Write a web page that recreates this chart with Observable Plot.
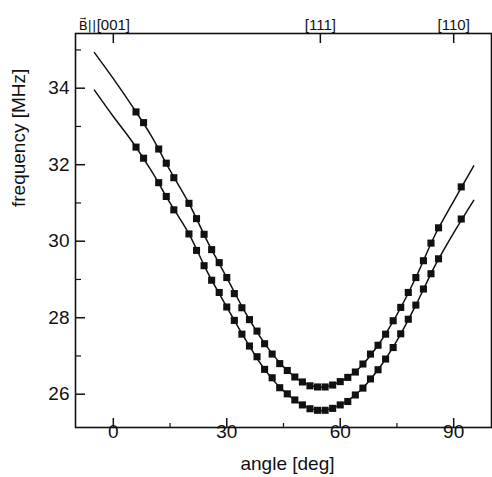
<!DOCTYPE html>
<html>
<head>
<meta charset="utf-8">
<script src="https://cdn.jsdelivr.net/npm/d3@7"></script>
<script src="https://cdn.jsdelivr.net/npm/@observablehq/plot@0.6"></script>
<style>
  html, body { margin: 0; padding: 0; background: #fff; }
  svg { display: block; }
</style>
</head>
<body>
<div id="chart"></div>
<script>
// Measured angles (deg) and frequencies (MHz) for the two lines
const angles = [6, 8, 12, 14, 16, 20, 22, 24, 26, 28, 30, 32, 34, 36, 38, 40, 42, 44, 46, 48,
  50, 52, 54, 56, 58, 60, 62, 64, 66, 68, 70, 72, 74, 76, 78, 80, 82, 84, 86, 92];
const upperFreq = [33.38, 33.10, 32.41, 32.04, 31.66, 30.99, 30.59, 30.18, 29.78, 29.44,
  29.05, 28.63, 28.26, 27.95, 27.65, 27.32, 27.05, 26.80, 26.62, 26.45,
  26.32, 26.22, 26.19, 26.19, 26.24, 26.33, 26.44, 26.58, 26.79, 27.05,
  27.28, 27.57, 27.92, 28.27, 28.66, 29.05, 29.49, 29.95, 30.35, 31.42];
const lowerFreq = [32.46, 32.17, 31.53, 31.17, 30.82, 30.19, 29.76, 29.36, 28.98, 28.66,
  28.28, 27.93, 27.57, 27.26, 26.98, 26.65, 26.43, 26.17, 26.01, 25.85,
  25.72, 25.62, 25.58, 25.58, 25.63, 25.72, 25.81, 25.98, 26.16, 26.40,
  26.64, 26.92, 27.22, 27.58, 27.96, 28.33, 28.75, 29.15, 29.54, 30.58];

// Fitted curves
const curveAngles = [-5, 0, 5, 10, 15, 20, 25, 30, 35, 40, 45, 50, 55, 60, 65, 70, 75, 80, 85, 90, 95.3];
const curveUpper = [34.93, 34.25, 33.53, 32.76, 31.85, 30.99, 29.97, 29.05, 28.12, 27.33, 26.72,
  26.32, 26.18, 26.33, 26.68, 27.28, 28.08, 29.05, 30.15, 31.05, 31.97];
const curveLower = [33.95, 33.26, 32.60, 31.85, 31.00, 30.19, 29.17, 28.28, 27.42, 26.65, 26.09,
  25.72, 25.57, 25.72, 26.07, 26.64, 27.40, 28.33, 29.35, 30.22, 31.07];

// Axes
const xMajorTicks = [0, 30, 60, 90];
const xMinorTicks = [15, 45, 75];
const yMajorTicks = [26, 28, 30, 32, 34];
const yMinorTicks = [27, 29, 31, 33, 35];
const topTicks = [0, 54.74, 90];
const topLabels = ["[001]", "[111]", "[110]"];
const topPrefix = "B\u20D7||";
const xLabel = "angle [deg]";
const yLabel = "frequency [MHz]";

const points = [];
angles.forEach((a, i) => {
  points.push({angle: a, freq: upperFreq[i], series: "upper"});
  points.push({angle: a, freq: lowerFreq[i], series: "lower"});
});
const curves = [];
curveAngles.forEach((a, i) => {
  curves.push({angle: a, freq: curveUpper[i], series: "upper"});
  curves.push({angle: a, freq: curveLower[i], series: "lower"});
});
const topData = topTicks.map((t, i) => ({angle: t, label: topLabels[i]}));

const font = "'Liberation Sans', Arial, Helvetica, sans-serif";

const chart = Plot.plot({
  width: 492,
  height: 477,
  marginLeft: 75,
  marginRight: 1,
  marginTop: 33,
  marginBottom: 50,
  style: {fontFamily: font, color: "#111", background: "#fff"},
  x: {domain: [-10, 100]},
  y: {domain: [25.13, 35.43]},
  marks: [
    Plot.frame({stroke: "#111", strokeWidth: 1.6}),
    // bottom axis
    Plot.axisX({anchor: "bottom", ticks: xMajorTicks, tickSize: -9, tickPadding: 6, fontSize: 19, label: null, strokeWidth: 1.5}),
    Plot.axisX({anchor: "bottom", ticks: xMinorTicks, tickSize: -4, tickFormat: () => "", label: null, strokeWidth: 1.2}),
    // top axis
    Plot.axisX({anchor: "top", ticks: topTicks, tickSize: -9, tickFormat: () => "", label: null, strokeWidth: 1.5}),
    Plot.text(topData, {x: "angle", text: "label", frameAnchor: "top", lineAnchor: "bottom", dy: -4, fontSize: 15}),
    Plot.text([topPrefix], {x: () => 0, frameAnchor: "top", textAnchor: "end", lineAnchor: "bottom", dx: -17, dy: -4, fontSize: 13, fontFamily: "'DejaVu Sans', sans-serif"}),
    // left axis
    Plot.axisY({anchor: "left", ticks: yMajorTicks, tickSize: -10, tickPadding: 16, fontSize: 19, label: null, strokeWidth: 1.5}),
    Plot.axisY({anchor: "left", ticks: yMinorTicks, tickSize: -6, tickFormat: () => "", label: null, strokeWidth: 1.2}),
    // axis titles
    Plot.text([xLabel], {frameAnchor: "bottom", lineAnchor: "top", dy: 29, dx: 4, fontSize: 19}),
    Plot.text([yLabel], {frameAnchor: "left", rotate: -90, dx: -57, dy: -23.5, fontSize: 19}),
    // curves and data
    Plot.line(curves, {x: "angle", y: "freq", z: "series", curve: "catmull-rom", stroke: "#111", strokeWidth: 1.5}),
    Plot.dot(points, {x: "angle", y: "freq", symbol: "square", r: 4, fill: "#111", stroke: "none"})
  ]
});
document.getElementById("chart").appendChild(chart);
</script>
</body>
</html>
